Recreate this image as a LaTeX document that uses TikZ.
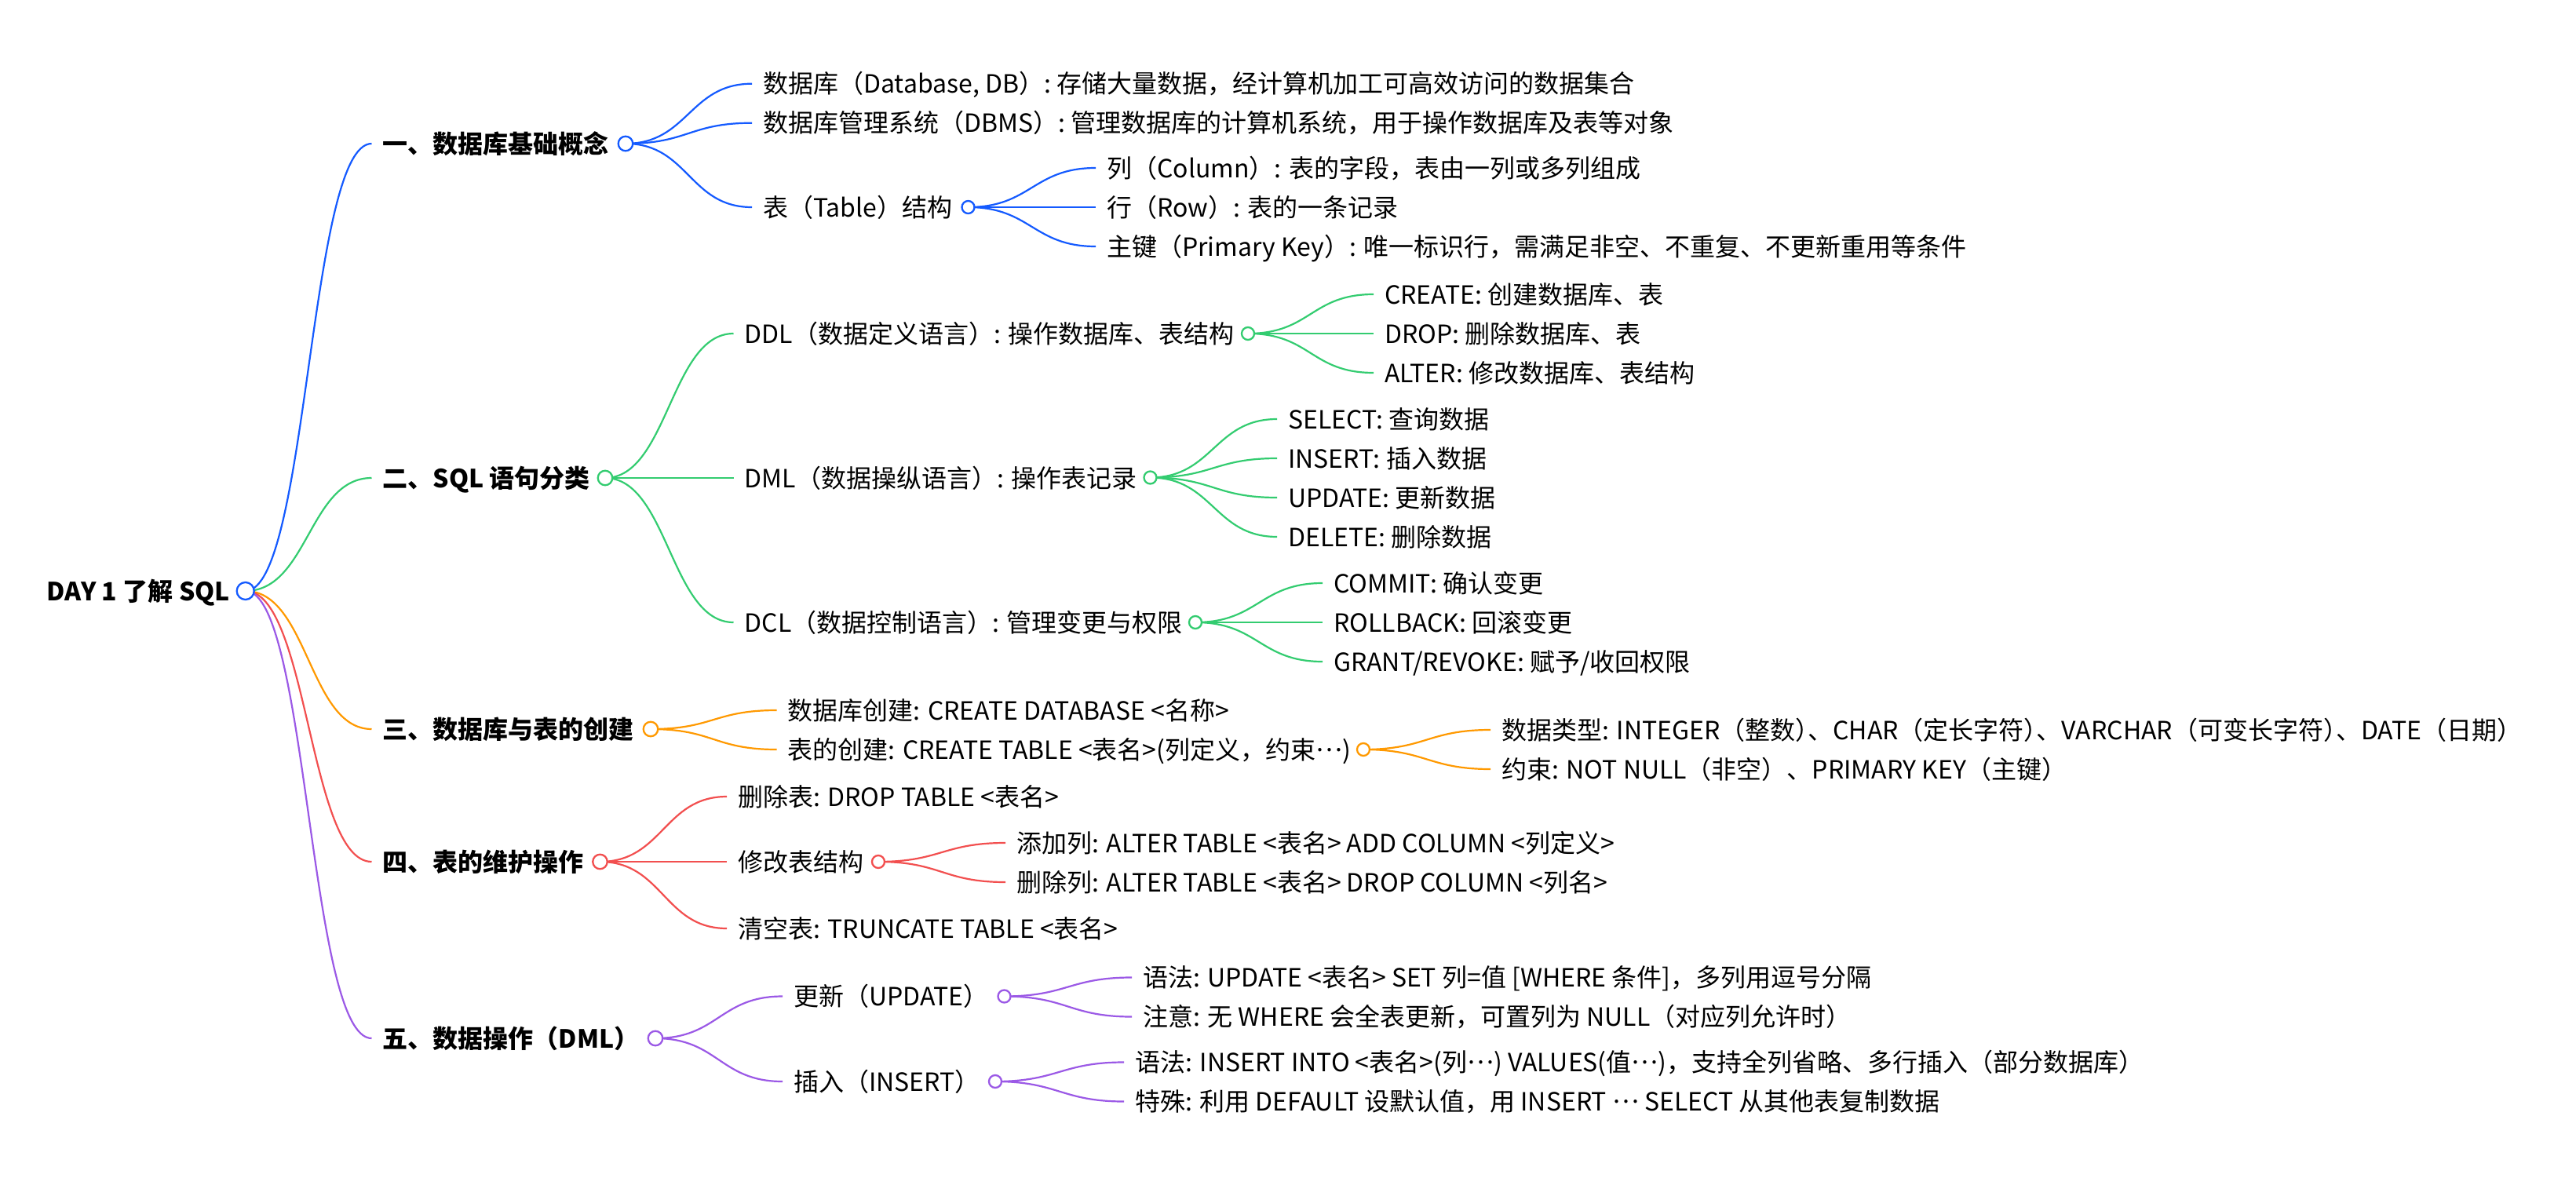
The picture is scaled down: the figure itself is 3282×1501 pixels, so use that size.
\documentclass[tikz,border=0pt]{standalone}
\usepackage{fontspec}
\setmainfont{Noto Sans CJK SC}
\definecolor{cblue}{HTML}{145AFF}
\definecolor{cgreen}{HTML}{33CC70}
\definecolor{corange}{HTML}{FF9900}
\definecolor{cred}{HTML}{F24F4F}
\definecolor{cpurple}{HTML}{9B59E6}
\pgfdeclarelayer{bg}
\pgfsetlayers{bg,main}
\newcommand{\myell}{\raisebox{0.3em}{…}}
\newcommand{\pq}{）\kern-0.5em、}
\tikzset{
  txt/.style={anchor=west, inner sep=0pt, text height=28pt, text depth=4pt, font=\fontsize{32pt}{38pt}\selectfont},
  boldtxt/.style={txt, font=\fontsize{32pt}{38pt}\selectfont\bfseries},
  dotbase/.style={circle, fill=white, line width=2.3pt, inner sep=0pt},
  dot0/.style={dotbase, minimum size=22pt},
  dot1/.style={dotbase, minimum size=18.5pt},
  dot2/.style={dotbase, minimum size=16pt},
  link/.style={line width=2.2pt},
}
\newcommand{\lnk}[3]{\draw[link,#1] (#2.center) .. controls +(80,0) and +(-80,0) .. ([xshift=-14pt]#3.west);}
\begin{document}
\begin{tikzpicture}[x=1pt,y=-1pt]
\useasboundingbox (0,0) rectangle (3282,1501);
% root
\node[boldtxt, anchor=east] (root) at (293,753) {DAY 1 了解 SQL};
\node[dot0, draw=cblue] (R) at (312.7,753) {};
% level 1
\node[boldtxt] (a1) at (487.5,183) {一、数据库基础概念};
\node[dot1, draw=cblue] (c1) at (797,183) {};
\node[boldtxt] (a2) at (487.5,609) {二、SQL 语句分类};
\node[dot1, draw=cgreen] (c2) at (771,609) {};
\node[boldtxt] (a3) at (487.5,929) {三、数据库与表的创建};
\node[dot1, draw=corange] (c3) at (829,929) {};
\node[boldtxt] (a4) at (487.5,1098) {四、表的维护操作};
\node[dot1, draw=cred] (c4) at (764.5,1098) {};
\node[boldtxt] (a5) at (487.5,1323) {五、数据操作（DML）};
\node[dot1, draw=cpurple] (c5) at (835,1323) {};
% branch 1
\node[txt] (b11) at (972,106.7) {数据库（Database, DB）: 存储大量数据，经计算机加工可高效访问的数据集合};
\node[txt] (b12) at (972,156.7) {数据库管理系统（DBMS）: 管理数据库的计算机系统，用于操作数据库及表等对象};
\node[txt] (b13) at (972,264) {表（Table）结构};
\node[dot2, draw=cblue] (c13) at (1233.5,264) {};
\node[txt] (d131) at (1410,214) {列（Column）: 表的字段，表由一列或多列组成};
\node[txt] (d132) at (1410,264) {行（Row）: 表的一条记录};
\node[txt] (d133) at (1410,314) {主键（Primary Key）: 唯一标识行，需满足非空、不重复、不更新重用等条件};
% branch 2
\node[txt] (b21) at (948.5,425) {DDL（数据定义语言）: 操作数据库、表结构};
\node[dot2, draw=cgreen] (c21) at (1590,425) {};
\node[txt] (b22) at (948.5,609) {DML（数据操纵语言）: 操作表记录};
\node[dot2, draw=cgreen] (c22) at (1465.5,608.5) {};
\node[txt] (b23) at (948.5,793) {DCL（数据控制语言）: 管理变更与权限};
\node[dot2, draw=cgreen] (c23) at (1523,793) {};
\node[txt] (d211) at (1764,375) {CREATE: 创建数据库、表};
\node[txt] (d212) at (1764,425) {DROP: 删除数据库、表};
\node[txt] (d213) at (1764,475) {ALTER: 修改数据库、表结构};
\node[txt] (d221) at (1641,534) {SELECT: 查询数据};
\node[txt] (d222) at (1641,584) {INSERT: 插入数据};
\node[txt] (d223) at (1641,634) {UPDATE: 更新数据};
\node[txt] (d224) at (1641,684) {DELETE: 删除数据};
\node[txt] (d231) at (1699,743) {COMMIT: 确认变更};
\node[txt] (d232) at (1699,793) {ROLLBACK: 回滚变更};
\node[txt] (d233) at (1699,843) {GRANT/REVOKE: 赋予/收回权限};
% branch 3
\node[txt] (b31) at (1003.5,905) {数据库创建: CREATE DATABASE <名称>};
\node[txt] (b32) at (1003.5,955) {表的创建: CREATE TABLE <表名>(列定义，约束\myell)};
\node[dot2, draw=corange] (c32) at (1737,955) {};
\node[txt] (d321) at (1913,930) {数据类型: INTEGER（整数\pq CHAR（定长字符\pq VARCHAR（可变长字符\pq DATE（日期）};
\node[txt] (d322) at (1913,980) {约束: NOT NULL（非空）、PRIMARY KEY（主键）};
% branch 4
\node[txt] (b41) at (940,1015) {删除表: DROP TABLE <表名>};
\node[txt] (b42) at (940,1098) {修改表结构};
\node[dot2, draw=cred] (c42) at (1119,1098) {};
\node[txt] (b43) at (940,1183) {清空表: TRUNCATE TABLE <表名>};
\node[txt] (d421) at (1295,1074) {添加列: ALTER TABLE <表名> ADD COLUMN <列定义>};
\node[txt] (d422) at (1295,1124) {删除列: ALTER TABLE <表名> DROP COLUMN <列名>};
% branch 5
\node[txt] (b51) at (1011,1269.5) {更新（UPDATE）};
\node[dot2, draw=cpurple] (c51) at (1279.5,1269.5) {};
\node[txt] (b52) at (1011,1378) {插入（INSERT）};
\node[dot2, draw=cpurple] (c52) at (1268,1378) {};
\node[txt] (d511) at (1456,1245.5) {语法: UPDATE <表名> SET 列=值 [WHERE 条件]，多列用逗号分隔};
\node[txt] (d512) at (1456,1295.5) {注意: 无 WHERE 会全表更新，可置列为 NULL（对应列允许时）};
\node[txt] (d521) at (1446,1353.5) {语法: INSERT INTO <表名>(列\myell) VALUES(值\myell)，支持全列省略、多行插入（部分数据库）};
\node[txt] (d522) at (1446,1403.5) {特殊: 利用 DEFAULT 设默认值，用 INSERT \myell\ SELECT 从其他表复制数据};
% connectors
\begin{pgfonlayer}{bg}
\fill[white] (0,0) rectangle (3282,1501);
\lnk{cblue}{R}{a1}
\lnk{cgreen}{R}{a2}
\lnk{corange}{R}{a3}
\lnk{cred}{R}{a4}
\lnk{cpurple}{R}{a5}
\lnk{cblue}{c1}{b11}
\lnk{cblue}{c1}{b12}
\lnk{cblue}{c1}{b13}
\lnk{cblue}{c13}{d131}
\lnk{cblue}{c13}{d132}
\lnk{cblue}{c13}{d133}
\lnk{cgreen}{c2}{b21}
\lnk{cgreen}{c2}{b22}
\lnk{cgreen}{c2}{b23}
\lnk{cgreen}{c21}{d211}
\lnk{cgreen}{c21}{d212}
\lnk{cgreen}{c21}{d213}
\lnk{cgreen}{c22}{d221}
\lnk{cgreen}{c22}{d222}
\lnk{cgreen}{c22}{d223}
\lnk{cgreen}{c22}{d224}
\lnk{cgreen}{c23}{d231}
\lnk{cgreen}{c23}{d232}
\lnk{cgreen}{c23}{d233}
\lnk{corange}{c3}{b31}
\lnk{corange}{c3}{b32}
\lnk{corange}{c32}{d321}
\lnk{corange}{c32}{d322}
\lnk{cred}{c4}{b41}
\lnk{cred}{c4}{b42}
\lnk{cred}{c4}{b43}
\lnk{cred}{c42}{d421}
\lnk{cred}{c42}{d422}
\lnk{cpurple}{c5}{b51}
\lnk{cpurple}{c5}{b52}
\lnk{cpurple}{c51}{d511}
\lnk{cpurple}{c51}{d512}
\lnk{cpurple}{c52}{d521}
\lnk{cpurple}{c52}{d522}
\end{pgfonlayer}
\end{tikzpicture}
\end{document}
